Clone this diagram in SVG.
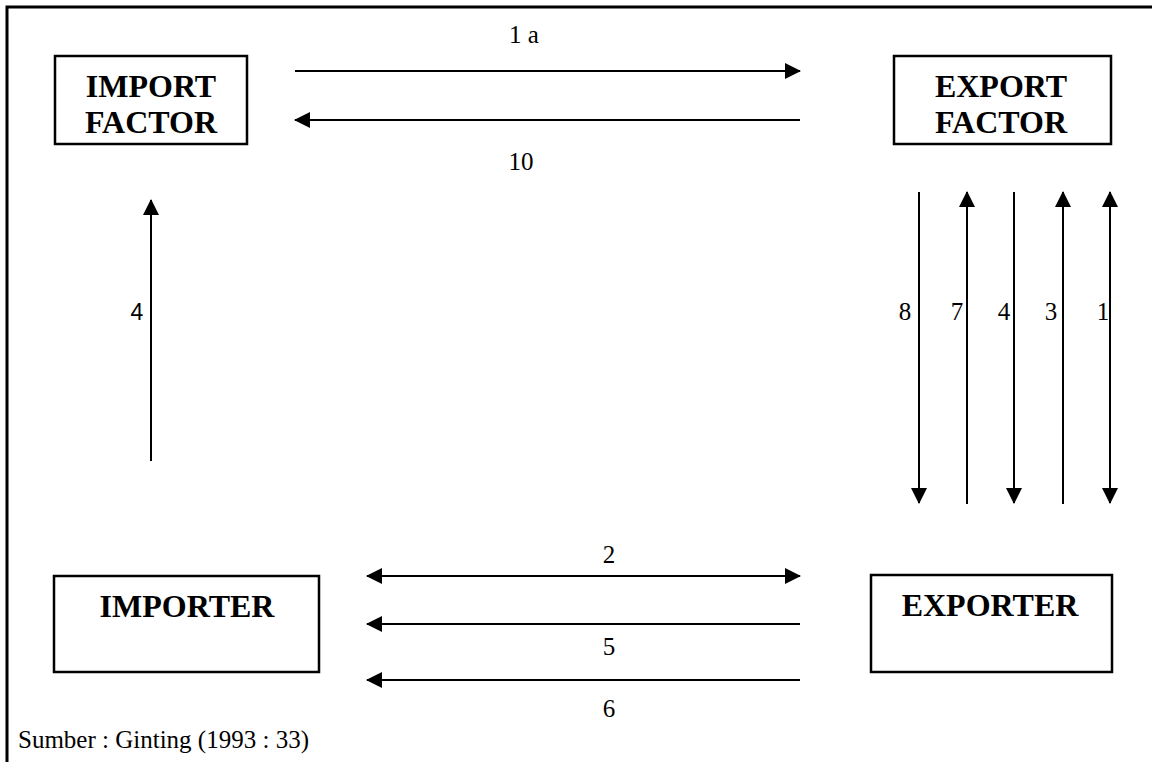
<svg xmlns="http://www.w3.org/2000/svg" width="1152" height="762" viewBox="0 0 1152 762">
  <style>
    .box { fill: #fff; stroke: #000; stroke-width: 2.5; }
    .title { font-family: "Liberation Serif", "Times New Roman", serif; font-weight: bold; font-size: 32px; text-anchor: middle; fill: #000; }
    .lbl { font-family: "Liberation Serif", "Times New Roman", serif; font-size: 25px; text-anchor: middle; fill: #000; }
    .lbl-sans { font-family: "Liberation Sans", Arial, sans-serif; font-size: 23px; text-anchor: middle; fill: #000; }
    .src { font-family: "Liberation Serif", "Times New Roman", serif; font-size: 25px; fill: #000; }
    .conn { stroke: #000; stroke-width: 2; fill: none; }
    .frame { stroke: #000; stroke-width: 3; fill: none; }
  </style>
  <defs>
    <marker id="head" markerUnits="userSpaceOnUse" markerWidth="16" markerHeight="16" refX="15" refY="8" orient="auto-start-reverse" viewBox="0 0 16 16">
      <path d="M0,0 L16,8 L0,16 Z" fill="#000"/>
    </marker>
  </defs>

  <rect width="1152" height="762" fill="#fff"/>

  <!-- page frame: top and left rule -->
  <path class="frame" d="M7,762 L7,7 L1152,7"/>

  <g id="import-factor">
    <rect class="box" x="55" y="56" width="192" height="88"/>
    <text class="title" x="151" y="97">IMPORT</text>
    <text class="title" x="151" y="133">FACTOR</text>
  </g>

  <g id="export-factor">
    <rect class="box" x="894" y="56" width="217" height="88"/>
    <text class="title" x="1001" y="97">EXPORT</text>
    <text class="title" x="1001" y="133">FACTOR</text>
  </g>

  <g id="importer">
    <rect class="box" x="54" y="576" width="265" height="96"/>
    <text class="title" x="187" y="617">IMPORTER</text>
  </g>

  <g id="exporter">
    <rect class="box" x="871" y="575" width="241" height="97"/>
    <text class="title" x="990" y="616">EXPORTER</text>
  </g>

  <g id="connectors">
    <!-- import factor <-> export factor -->
    <line class="conn" x1="295" y1="71" x2="800" y2="71" marker-end="url(#head)"/>
    <text class="lbl" x="524" y="43">1 a</text>
    <line class="conn" x1="800" y1="120" x2="295" y2="120" marker-end="url(#head)"/>
    <text class="lbl" x="521" y="170">10</text>

    <!-- importer -> import factor -->
    <line class="conn" x1="151" y1="461" x2="151" y2="200" marker-end="url(#head)"/>
    <text class="lbl-sans" x="137" y="320">4</text>

    <!-- export factor <-> exporter -->
    <line class="conn" x1="919" y1="192" x2="919" y2="503" marker-end="url(#head)"/>
    <text class="lbl" x="905" y="320">8</text>
    <line class="conn" x1="967" y1="504" x2="967" y2="192" marker-end="url(#head)"/>
    <text class="lbl" x="957" y="320">7</text>
    <line class="conn" x1="1014" y1="192" x2="1014" y2="503" marker-end="url(#head)"/>
    <text class="lbl" x="1004" y="320">4</text>
    <line class="conn" x1="1063" y1="504" x2="1063" y2="192" marker-end="url(#head)"/>
    <text class="lbl" x="1051" y="320">3</text>
    <line class="conn" x1="1110" y1="192" x2="1110" y2="503" marker-start="url(#head)" marker-end="url(#head)"/>
    <text class="lbl" x="1103" y="320">1</text>

    <!-- importer <-> exporter -->
    <line class="conn" x1="367" y1="576" x2="800" y2="576" marker-start="url(#head)" marker-end="url(#head)"/>
    <text class="lbl" x="609" y="563">2</text>
    <line class="conn" x1="800" y1="624" x2="367" y2="624" marker-end="url(#head)"/>
    <text class="lbl" x="609" y="655">5</text>
    <line class="conn" x1="800" y1="680" x2="367" y2="680" marker-end="url(#head)"/>
    <text class="lbl" x="609" y="717">6</text>
  </g>

  <text class="src" x="18" y="748">Sumber : Ginting (1993 : 33)</text>
</svg>
